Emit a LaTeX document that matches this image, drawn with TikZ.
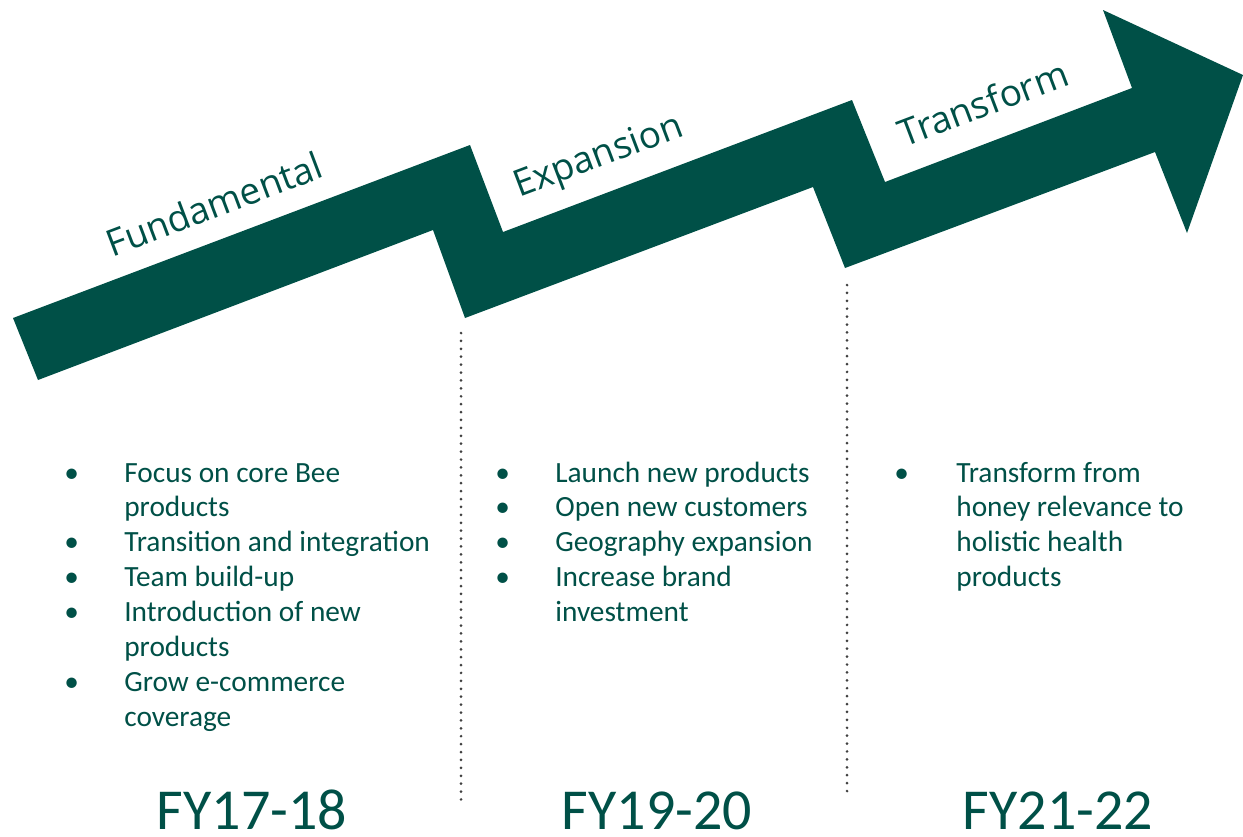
\documentclass[tikz,border=0pt]{standalone}
\usepackage{fontspec}
\setmainfont{Carlito}
\newfontfamily\stagefont{Open Sans}
\definecolor{beegreen}{RGB}{0,80,71}

\tikzset{
  stage/.style={rotate=20.7, inner sep=0pt, text=beegreen,
    font=\stagefont\fontsize{21}{25}\selectfont},
  bullets/.style={anchor=base west, inner sep=0pt, text=beegreen,
    font=\fontsize{16.7}{19.9}\selectfont},
  year/.style={anchor=base, inner sep=0pt, text=beegreen,
    font=\fontsize{33}{40}\selectfont},
  dotline/.style={black!75, line width=1.7pt, line cap=round,
    dash pattern=on 0pt off 4.5pt}
}

\begin{document}
\begin{tikzpicture}  % ------ Flèche en escalier -----------
      [x={(0.02cm,0cm)},y={(0cm,-0.02cm)},scale=1]
    \useasboundingbox (0,0) rectangle (1243,836);

    \coordinate (A1) at (13,318);
    \coordinate (A2) at (470,145);
    \coordinate (A3) at (503,232);
    \coordinate (A4) at (852,100);
    \coordinate (A5) at (885,182);
    \coordinate (A6) at (1132,88);
    \coordinate (A7) at (1103,10);
    \coordinate (A8) at (1243,75);
    \coordinate (A9) at (1187,233);
    \coordinate (A10) at (1155,152);
    \coordinate (A11) at (845,268);
    \coordinate (A12) at (813,187);
    \coordinate (A13) at (465,318);
    \coordinate (A14) at (433,230);
    \coordinate (A15) at (38,380);

    \fill[beegreen] (A1) -- (A2) -- (A3) -- (A4) -- (A5) -- (A6) -- (A7)
       -- (A8) -- (A9) -- (A10) -- (A11) -- (A12) -- (A13) -- (A14)
       -- (A15) -- cycle ;

    \node[stage] (fund) at (214,204) {Fundamental};
    \node[stage] (expa) at (599,158) {Expansion};
    \node[stage] (trans) at (983,103) {Transform};

    \draw[dotline] (461,333) -- (461,805) ;
    \draw[dotline] (847,285) -- (847,794) ;

    \node[bullets] (list1) at (64,482) {\begin{tabular}[t]{@{}p{1.2cm}@{}l@{}}
      \textbullet & Focus on core Bee\\
                  & products\\
      \textbullet & Transition and integration\\
      \textbullet & Team build-up\\
      \textbullet & Introduction of new\\
                  & products\\
      \textbullet & Grow e-commerce\\
                  & coverage
    \end{tabular}};
    \node[bullets] (list2) at (495,482) {\begin{tabular}[t]{@{}p{1.2cm}@{}l@{}}
      \textbullet & Launch new products\\
      \textbullet & Open new customers\\
      \textbullet & Geography expansion\\
      \textbullet & Increase brand\\
                  & investment
    \end{tabular}};
    \node[bullets] (list3) at (894,482) {\begin{tabular}[t]{@{}p{1.24cm}@{}l@{}}
      \textbullet & Transform from\\
                  & honey relevance to\\
                  & holistic health\\
                  & products
    \end{tabular}};

    \node[year] (fy1) at (252,829) {FY17-18};
    \node[year] (fy2) at (657,829) {FY19-20};
    \node[year] (fy3) at (1058,829) {FY21-22};
\end{tikzpicture}
\end{document}
